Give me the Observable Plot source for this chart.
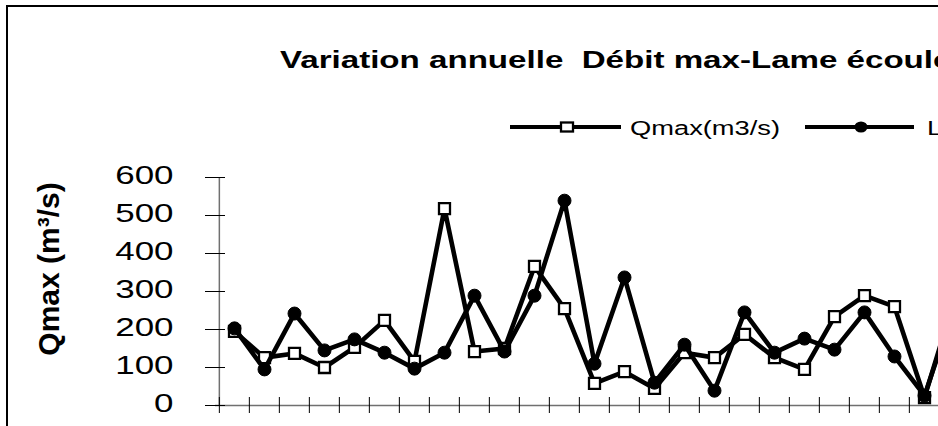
<!DOCTYPE html>
<html>
<head>
<meta charset="utf-8">
<script src="https://cdn.jsdelivr.net/npm/d3@7"></script>
<script src="https://cdn.jsdelivr.net/npm/@observablehq/plot@0.6"></script>
<style>
  html, body { margin: 0; padding: 0; background: #fff; width: 938px; height: 426px; overflow: hidden; }
  #wrap { position: relative; width: 938px; height: 426px; overflow: hidden; font-family: "Liberation Sans", Arial, sans-serif; }
  #frame { position: absolute; left: 6px; top: 5px; width: 1200px; height: 600px; border: 2px solid #000; box-sizing: border-box; }
  #head { position: absolute; left: 0; top: 0; }
  #chart { position: absolute; left: 0; top: 150px; width: 1000px; }
  #chart svg { max-width: none !important; }
</style>
</head>
<body>
<div id="wrap">
  <div id="frame"></div>
  <svg id="head" width="938" height="150"></svg>
  <div id="chart"></div>
</div>
<script>
// ---- data ----
const title = "Variation annuelle  Débit max-Lame écoulée";
const seriesNames = ["Qmax(m3/s)", "Lame écoulée(mm)"];
const yLabel = "Qmax (m³/s)";
const categories = ["1","2","3","4","5","6","7","8","9","10","11","12","13","14","15","16","17","18","19","20","21","22","23","24","25"];
const qmax = [195, 126, 137, 100, 153, 224, 116, 518, 142, 150, 366, 255, 58, 89, 45, 139, 126, 187, 126, 95, 234, 289, 260, 21, 280];
const lame = [203, 95, 242, 145, 174, 139, 97, 139, 289, 142, 289, 539, 110, 337, 60, 160, 39, 245, 139, 176, 147, 245, 129, 26, 260];
const yTicks = [0, 100, 200, 300, 400, 500, 600];

const rows = categories.map((c, i) => ({cat: c, q: qmax[i], l: lame[i]}));

const FONT = "Liberation Sans, Arial, sans-serif";
const SX = 1.37;           // horizontal text stretch seen in the reference
const bandW = 30.3;
const mLeft = 215;
const plotWidth = mLeft + bandW * categories.length + 27.5;

const chart = Plot.plot({
  width: plotWidth,
  height: 295,
  marginLeft: mLeft,
  marginRight: 27.5,
  marginTop: 27,
  marginBottom: 40,
  style: {fontFamily: FONT, background: "transparent", color: "#000", overflow: "visible", maxWidth: "none"},
  x: {type: "band", domain: categories, padding: 0, axis: null},
  y: {domain: [0, 600], axis: null},
  marks: [
    Plot.ruleY([0], {stroke: "#707070", strokeWidth: 1.5}),
    Plot.ruleX([categories[0]], {dx: -bandW / 2, stroke: "#707070", strokeWidth: 1.5}),
    Plot.tickY(yTicks, {y: d => d, insetLeft: -10, insetRight: bandW * categories.length - 10, stroke: "#000", strokeWidth: 1}),
    Plot.tickX(categories, {x: d => d, dx: -bandW / 2, insetTop: 228 - 8, insetBottom: -8, stroke: "#000", strokeWidth: 1}),
    Plot.axisY({ticks: yTicks, tickSize: 0, tickPadding: 42, dy: 6, fontSize: 25.5, label: null, tickFormat: d => String(d)}),
    Plot.text([yLabel], {frameAnchor: "left", dx: -166, dy: -22.5, rotate: -90, fontSize: 30, fontWeight: "bold", textAnchor: "middle", fill: "#000"}),
    Plot.line(rows, {x: "cat", y: "q", stroke: "#000", strokeWidth: 4.6, strokeLinejoin: "miter"}),
    Plot.dot(rows, {x: "cat", y: "q", symbol: "square", r: 6.2, fill: "#fff", stroke: "#000", strokeWidth: 2.3}),
    Plot.line(rows, {x: "cat", y: "l", stroke: "#000", strokeWidth: 4.6, strokeLinejoin: "miter"}),
    Plot.dot(rows, {x: "cat", y: "l", symbol: "circle", r: 6.5, fill: "#000", stroke: "#000", strokeWidth: 1})
  ]
});
chart.style.maxWidth = "none";

// stretch y tick labels horizontally like the reference
const tickSet = new Set(yTicks.map(String));
chart.querySelectorAll("text").forEach(t => {
  if (!tickSet.has(t.textContent.trim())) return;
  const tx = t.getAttribute("transform") || "";
  const x = +t.getAttribute("x") || 0, y = +t.getAttribute("y") || 0;
  t.setAttribute("x", 0); t.setAttribute("y", 0);
  t.setAttribute("transform", `${tx} translate(${x},${y}) scale(${SX},1)`);
});
document.getElementById("chart").appendChild(chart);

// ---- title and legend ----
const head = d3.select("#head");
head.append("text")
  .attr("transform", `translate(280,68) scale(1.38,1)`)
  .attr("font-family", FONT).attr("font-size", 24).attr("font-weight", "bold")
  .style("white-space", "pre")
  .text(title);

const ly = 127;
const legendItems = [
  {name: seriesNames[0], x1: 510, x2: 621, mx: 567, sym: "square", tx: 630},
  {name: seriesNames[1], x1: 805, x2: 914, mx: 861, sym: "circle", tx: 927}
];
legendItems.forEach(it => {
  head.append("line").attr("x1", it.x1).attr("x2", it.x2).attr("y1", ly).attr("y2", ly)
    .attr("stroke", "#000").attr("stroke-width", 4);
  if (it.sym === "square") {
    head.append("rect").attr("x", it.mx - 6).attr("y", ly - 4.5).attr("width", 12).attr("height", 9)
      .attr("fill", "#fff").attr("stroke", "#000").attr("stroke-width", 2.3);
  } else {
    head.append("ellipse").attr("cx", it.mx).attr("cy", ly).attr("rx", 6.5).attr("ry", 5.5).attr("fill", "#000");
  }
  head.append("text")
    .attr("transform", `translate(${it.tx},${ly + 7.5}) scale(1.3,1)`)
    .attr("font-family", FONT).attr("font-size", 21)
    .text(it.name);
});
</script>
</body>
</html>
